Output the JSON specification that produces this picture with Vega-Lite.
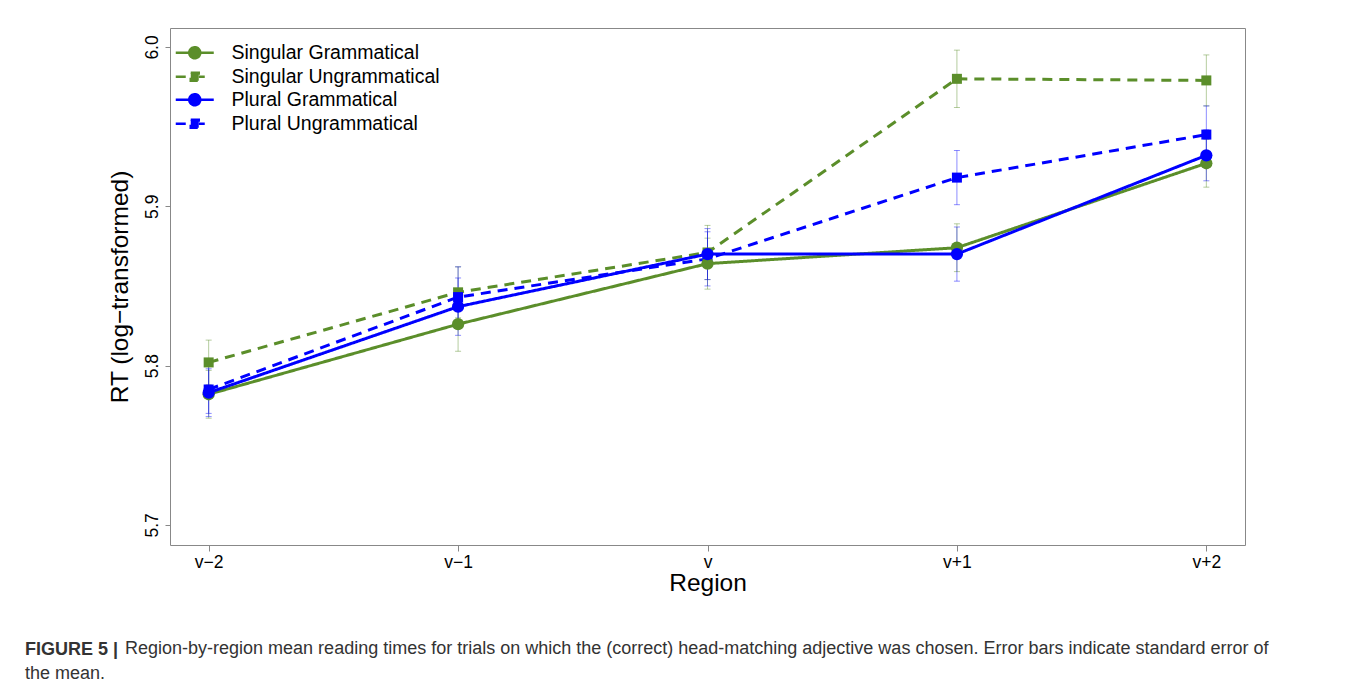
{
  "$schema": "https://vega.github.io/schema/vega-lite/v6.json",
  "width": 1075,
  "height": 517,
  "autosize": "none",
  "padding": {"left": 170, "top": 28, "right": 113, "bottom": 141},
  "background": "white",
  "title": {
    "text": "FIGURE 5 |",
    "subtitle": [
      "\u200b\u00a0\u00a0\u00a0\u00a0\u00a0\u00a0\u00a0\u00a0\u00a0\u00a0\u00a0\u00a0\u00a0\u00a0\u00a0\u00a0\u00a0\u00a0\u00a0\u00a0Region-by-region mean reading times for trials on which the (correct) head-matching adjective was chosen. Error bars indicate standard error of",
      "the mean."
    ],
    "orient": "bottom",
    "anchor": "start",
    "frame": "group",
    "dx": -145,
    "offset": 46,
    "font": "Liberation Sans",
    "fontSize": 18,
    "fontWeight": "bold",
    "color": "#333333",
    "subtitleFont": "Liberation Sans",
    "subtitleFontSize": 18,
    "subtitleColor": "#333333",
    "subtitleLineHeight": 25,
    "subtitlePadding": -19
  },
  "data": {
    "values": [
      {"series": "Singular Grammatical", "region": "v−2", "rt": 5.782, "lo": 5.767, "hi": 5.797},
      {"series": "Singular Grammatical", "region": "v−1", "rt": 5.826, "lo": 5.809, "hi": 5.843},
      {"series": "Singular Grammatical", "region": "v", "rt": 5.864, "lo": 5.848, "hi": 5.880},
      {"series": "Singular Grammatical", "region": "v+1", "rt": 5.874, "lo": 5.859, "hi": 5.889},
      {"series": "Singular Grammatical", "region": "v+2", "rt": 5.927, "lo": 5.912, "hi": 5.942},
      {"series": "Singular Ungrammatical", "region": "v−2", "rt": 5.802, "lo": 5.788, "hi": 5.816},
      {"series": "Singular Ungrammatical", "region": "v−1", "rt": 5.846, "lo": 5.830, "hi": 5.862},
      {"series": "Singular Ungrammatical", "region": "v", "rt": 5.871, "lo": 5.854, "hi": 5.888},
      {"series": "Singular Ungrammatical", "region": "v+1", "rt": 5.980, "lo": 5.962, "hi": 5.998},
      {"series": "Singular Ungrammatical", "region": "v+2", "rt": 5.979, "lo": 5.963, "hi": 5.995},
      {"series": "Plural Ungrammatical", "region": "v−2", "rt": 5.785, "lo": 5.770, "hi": 5.800},
      {"series": "Plural Ungrammatical", "region": "v−1", "rt": 5.843, "lo": 5.824, "hi": 5.862},
      {"series": "Plural Ungrammatical", "region": "v", "rt": 5.867, "lo": 5.850, "hi": 5.884},
      {"series": "Plural Ungrammatical", "region": "v+1", "rt": 5.918, "lo": 5.901, "hi": 5.935},
      {"series": "Plural Ungrammatical", "region": "v+2", "rt": 5.945, "lo": 5.927, "hi": 5.963},
      {"series": "Plural Grammatical", "region": "v−2", "rt": 5.783, "lo": 5.768, "hi": 5.798},
      {"series": "Plural Grammatical", "region": "v−1", "rt": 5.837, "lo": 5.819, "hi": 5.855},
      {"series": "Plural Grammatical", "region": "v", "rt": 5.870, "lo": 5.854, "hi": 5.886},
      {"series": "Plural Grammatical", "region": "v+1", "rt": 5.870, "lo": 5.853, "hi": 5.887},
      {"series": "Plural Grammatical", "region": "v+2", "rt": 5.932, "lo": 5.916, "hi": 5.948}
    ]
  },
  "encoding": {
    "x": {
      "field": "region",
      "type": "ordinal",
      "scale": {"type": "point", "domain": ["v−2", "v−1", "v", "v+1", "v+2"], "padding": 0.155},
      "axis": {
        "title": "Region",
        "labelAngle": 0,
        "labelFontSize": 17.5,
        "labelPadding": 2,
        "tickSize": 6,
        "tickColor": "#888888",
        "domain": false,
        "titleFontSize": 24.5,
        "titleFontWeight": "normal",
        "titlePadding": 1
      }
    },
    "y": {"field": "rt", "type": "quantitative", "title": "RT (log−transformed)"},
    "color": {
      "field": "series",
      "type": "nominal",
      "scale": {
        "domain": ["Singular Grammatical", "Singular Ungrammatical", "Plural Grammatical", "Plural Ungrammatical"],
        "range": ["#5b8e2a", "#5b8e2a", "#0000ff", "#0000ff"]
      },
      "legend": {
        "orient": "none",
        "legendX": 15,
        "legendY": 15,
        "padding": 0,
        "title": null,
        "labelFontSize": 19.5,
        "labelOffset": 27,
        "labelLimit": 400,
        "symbolSize": 100,
        "rowPadding": 2,
        "encode": {
          "symbols": {
            "update": {
              "shape": {"signal": "indexof(datum.value, 'Ungram') >= 0 ? 'M-3.8,0H-1.8M-0.8,-0.8H0.8V0.8H-0.8ZM0.8,0H2' : 'M-3.8,0H3.8M-1.1,0A1.1,1.1 0 1,0 1.1,0A1.1,1.1 0 1,0 -1.1,0Z'"},
              "fill": {"signal": "indexof(datum.value, 'Singular') >= 0 ? '#5b8e2a' : '#0000ff'"},
              "stroke": {"signal": "indexof(datum.value, 'Singular') >= 0 ? '#5b8e2a' : '#0000ff'"},
              "strokeDash": {"value": [1, 0]},
              "strokeWidth": {"value": 2.5},
              "opacity": {"value": 1}
            }
          }
        }
      }
    }
  },
  "layer": [
    {
      "mark": {"type": "errorbar", "ticks": {"size": 6, "thickness": 1}, "rule": {"strokeWidth": 1}, "opacity": 0.45},
      "encoding": {
        "y": {"field": "lo", "type": "quantitative", "title": "RT (log−transformed)"},
        "y2": {"field": "hi"}
      }
    },
    {
      "mark": {"type": "line", "strokeWidth": 3},
      "encoding": {
        "y": {
          "field": "rt",
          "type": "quantitative",
          "title": "RT (log−transformed)",
          "scale": {"domain": [5.6874, 6.0119], "nice": false, "zero": false},
          "axis": {
            "values": [5.7, 5.8, 5.9, 6.0],
            "format": ".1f",
            "labelAngle": 270,
            "labelAlign": "center",
            "labelBaseline": "bottom",
            "labelFontSize": 17.5,
            "labelPadding": 4,
            "tickSize": 5,
            "tickColor": "#888888",
            "domain": false,
            "grid": false,
            "titleFontSize": 24.5,
            "titleFontWeight": "normal",
            "titlePadding": 11
          }
        },
        "strokeDash": {
          "field": "series",
          "type": "nominal",
          "scale": {
            "domain": ["Singular Grammatical", "Singular Ungrammatical", "Plural Grammatical", "Plural Ungrammatical"],
            "range": [[1, 0], [10, 7], [1, 0], [10, 7]]
          },
          "legend": null
        }
      }
    },
    {
      "transform": [{"filter": "indexof(datum.series, 'Ungram') >= 0"}],
      "mark": {"type": "point", "shape": "square", "filled": true, "opacity": 1, "size": 100}
    },
    {
      "transform": [{"filter": "indexof(datum.series, 'Ungram') < 0"}],
      "mark": {"type": "point", "shape": "circle", "filled": true, "opacity": 1, "size": 150}
    }
  ],
  "config": {
    "font": "Liberation Sans",
    "view": {"stroke": "#888888", "strokeWidth": 1},
    "axis": {"labelColor": "#000000", "titleColor": "#000000", "grid": false},
    "legend": {"labelColor": "#000000", "labelFont": "Liberation Sans"}
  }
}
